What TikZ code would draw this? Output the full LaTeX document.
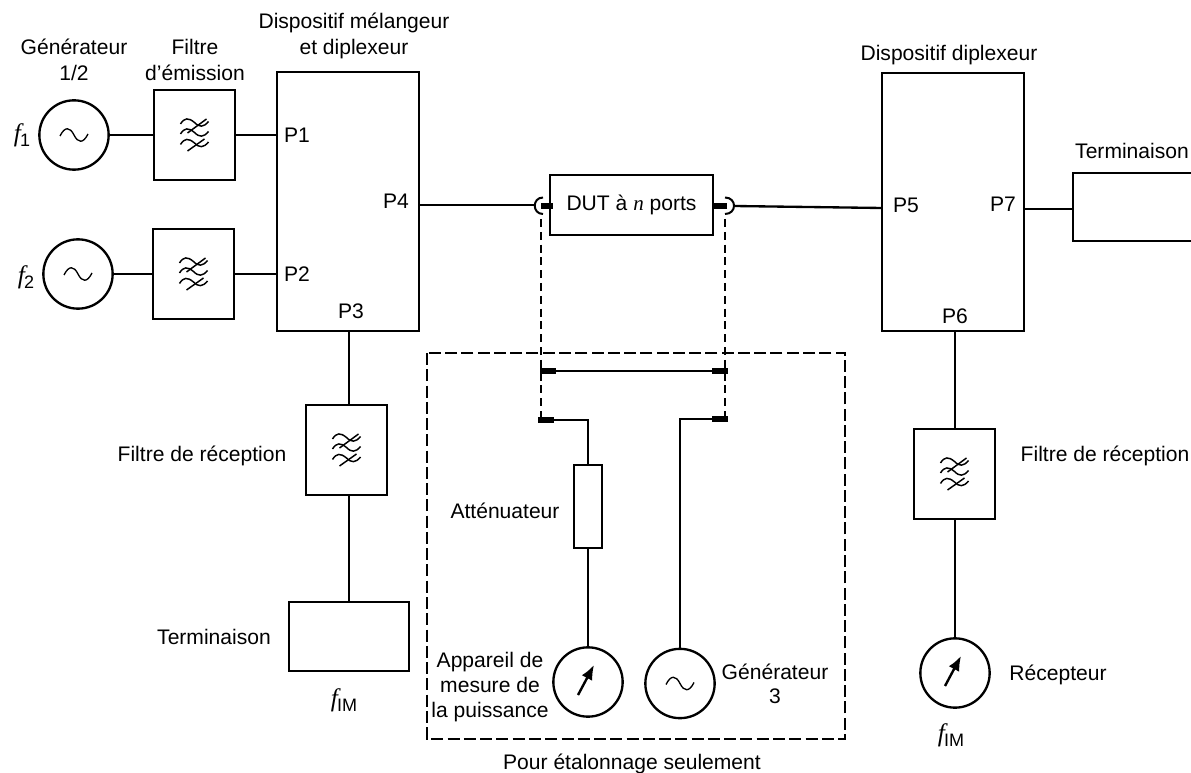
\documentclass[tikz,border=0pt]{standalone}
\usepackage{fontspec}
\setmainfont{Liberation Sans}
\newfontfamily\serifit{Liberation Serif}
\usetikzlibrary{arrows.meta}
\newcommand{\fq}[1]{{\fontsize{19}{20}\serifit\itshape f}\kern-0.5pt\raisebox{-0.45ex}{\fontsize{13.5}{14}\selectfont #1}}
\tikzset{
  x=0.75pt,y=-0.75pt,
  every node/.style={inner sep=0pt,outer sep=0pt},
  wire/.style={line width=1.75pt,draw=black},
  dut/.style={draw=black,line width=1.75pt,minimum width=122.25pt,minimum height=45pt,font=\fontsize{15.8}{19}\selectfont},
  filterbox/.style={draw=black,line width=1.75pt,minimum width=60.75pt,minimum height=67.5pt},
  blockbig/.style={draw=black,line width=1.75pt,minimum width=106.5pt,minimum height=194.25pt},
  termbox/.style={draw=black,line width=1.75pt,minimum width=90pt,minimum height=51.75pt},
  attbox/.style={draw=black,line width=1.75pt,minimum width=21pt,minimum height=62.25pt},
  dial/.style={circle,draw=black,line width=1.75pt,minimum size=52pt},
  lab/.style={font=\fontsize{15.8}{16.5}\selectfont,align=center},
  portlab/.style={font=\fontsize{15.8}{16.5}\selectfont},
  contact/.style={line width=3.8pt,draw=black},
  sonde/.style={line width=1.4pt,draw=black,dash pattern=on 6pt off 3.6pt},
  zone/.style={line width=1.75pt,draw=black,dash pattern=on 9pt off 3.2pt},
  pics/sinewave/.style={code={\draw[line width=1pt,black] (-14,1) .. controls (-9,-9) and (-4,-8) .. (0,0) .. controls (4,8) and (9,9) .. (14,-1);}},
  pics/filterglyph/.style={code={
    \foreach \yy in {-12.5,-2.5,8}{
      \draw[line width=1.1pt,black] (-14,\yy+1.5) .. controls (-10,\yy-5) and (-6,\yy-5) .. (0,\yy) .. controls (5,\yy+5) and (9,\yy+5) .. (14,\yy-1);
    }
    \draw[line width=1.1pt,black] (-7,-2) -- (12,-16);
    \draw[line width=1.1pt,black] (-7,16) -- (10,4);
  }},
  pics/meterarrow/.style={code={\draw[line width=1.8pt,black,-{Latex[length=11pt,width=9pt]}] (-10,13) -- (6,-17);}}
}
\begin{document}
\begin{tikzpicture}
\useasboundingbox (0,0) rectangle (1191,773);
% sources
\node[dial] (g1) at (74,135) {};
\node[dial] (g2) at (78,274) {};
\pic at (g1) {sinewave};
\pic at (g2) {sinewave};
% blocks
\node[filterbox] (fe1) at (194.5,135) {};
\node[filterbox] (fe2) at (193.5,274) {};
\pic at (fe1) {filterglyph};
\pic at (fe2) {filterglyph};
\node[blockbig] (mix) at (348,201.5) {};
\node[blockbig,minimum height=193.5pt] (dip) at (953,202) {};
\node[filterbox] (fr1) at (346.5,450) {};
\node[filterbox] (fr2) at (954.5,474) {};
\pic at (fr1) {filterglyph};
\pic at (fr2) {filterglyph};
\node[termbox] (t1) at (349,636.5) {};
\node[dut] (dutb) at (631.5,205) {DUT à {\serifit\itshape n} ports};
\node[attbox] (att) at (588,506.5) {};
\node[dial] (rec) at (955,673) {};
\pic at (rec) {meterarrow};
\node[dial] (pm) at (588,682) {};
\pic at (pm) {meterarrow};
\node[dial] (g3) at (680,683.5) {};
\pic at (g3) {sinewave};
% terminaison open on the right edge
\coordinate (tr) at (1073,209);
\draw[wire] (1193,173) -- (1073,173) -- (1073,241) -- (1193,241);
% port coordinates
\coordinate (p1) at (mix.west |- g1);
\coordinate (p2) at (mix.west |- g2);
\coordinate (p3) at (349,331);
\coordinate (p4) at (419,205);
\coordinate (p5) at (882,208);
\coordinate (p6) at (955,331);
\coordinate (p7) at (1024,209);
\coordinate (cl) at (535,205);
\coordinate (cr) at (734,206);
% wires
\draw[wire] (g1.east) -- (fe1.west);
\draw[wire] (g2.east) -- (fe2.west);
\draw[wire] (fe1.east) -- (p1);
\draw[wire] (fe2.east) -- (p2);
\draw[wire] (p3) -- (fr1.north -| p3);
\draw[wire] (fr1.south -| p3) -- (t1.north);
\draw[wire] (p6) -- (fr2.north -| p6);
\draw[wire] (fr2.south -| p6) -- (rec.north);
\draw[wire] (p4) -- (cl);
\draw[wire] (cr) -- (p5);
\draw[wire] (p7) -- (tr);
% contacts on DUT
\coordinate (dl) at (541,206);
\coordinate (dr) at (727,206);
\draw[contact] (dl) -- ++(12,0);
\draw[contact] (dr) -- ++(-14,0);
\draw[line width=1.5pt] (543,197.5) .. controls (532,197.5) and (532,214) .. (543,214);
\draw[line width=1.5pt] (725,197.5) .. controls (737,197.5) and (737,214) .. (725,214);
% probes
\coordinate (a1) at (541,371);
\coordinate (a2) at (725,371);
\coordinate (b1) at (538,420);
\coordinate (b2) at (728,419);
\draw[sonde] (541,219) -- (541,420);
\draw[sonde] (725,219) -- (725,419);
\draw[wire] (a1) -- (a2);
\draw[contact] (540,371) -- (556,371);
\draw[contact] (712,371) -- (728,371);
\draw[contact] (b1) -- ++(16,0);
\draw[contact] (b2) -- ++(-16,0);
\draw[wire] (b1) -- (588,420) -- (att.north);
\draw[wire] (att.south) -- (pm.north);
\draw[wire] (b2) -- (680,419) -- (g3.north);
% zone
\draw[zone] (427,353) rectangle (845,739);
% labels
\node[lab] (l1) at (74,60) {Générateur\\[2.5pt]1/2};
\node[lab] (l2) at (195,60) {Filtre\\[2.5pt]d’émission};
\node[lab] (l3) at (354,36) {Dispositif mélangeur\\[2.5pt]et diplexeur};
\node[lab] (l4) at (949,55) {Dispositif diplexeur};
\node[lab] (l5) at (1132,151) {Terminaison};
\node[lab] (l6) at (202,456) {Filtre de réception};
\node[lab] (l7) at (1105,456) {Filtre de réception};
\node[lab] (l8) at (214,637) {Terminaison};
\node[lab] (l9) at (505,511) {Atténuateur};
\node[lab] (l10) at (490,687) {Appareil de\\[2pt]mesure de\\[2pt]la puissance};
\node[lab] (l11) at (775,684) {Générateur\\[1pt]3};
\node[lab] (l12) at (1058,675) {Récepteur};
\node[lab] (l13) at (632,764) {Pour étalonnage seulement};
\node[portlab] (pl1) at (297,135) {P1};
\node[portlab] (pl2) at (297,274) {P2};
\node[portlab] (pl3) at (351,311) {P3};
\node[portlab] (pl4) at (396,201) {P4};
\node[portlab] (pl5) at (906,205) {P5};
\node[portlab] (pl6) at (955,316) {P6};
\node[portlab] (pl7) at (1003,204) {P7};
\node[lab] (f1) at (22,135) {\fq{1}};
\node[lab] (f2) at (26,277) {\fq{2}};
\node[lab] (f3) at (344,700) {\fq{IM}};
\node[lab] (f4) at (951,735) {\fq{IM}};
\end{tikzpicture}
\end{document}
